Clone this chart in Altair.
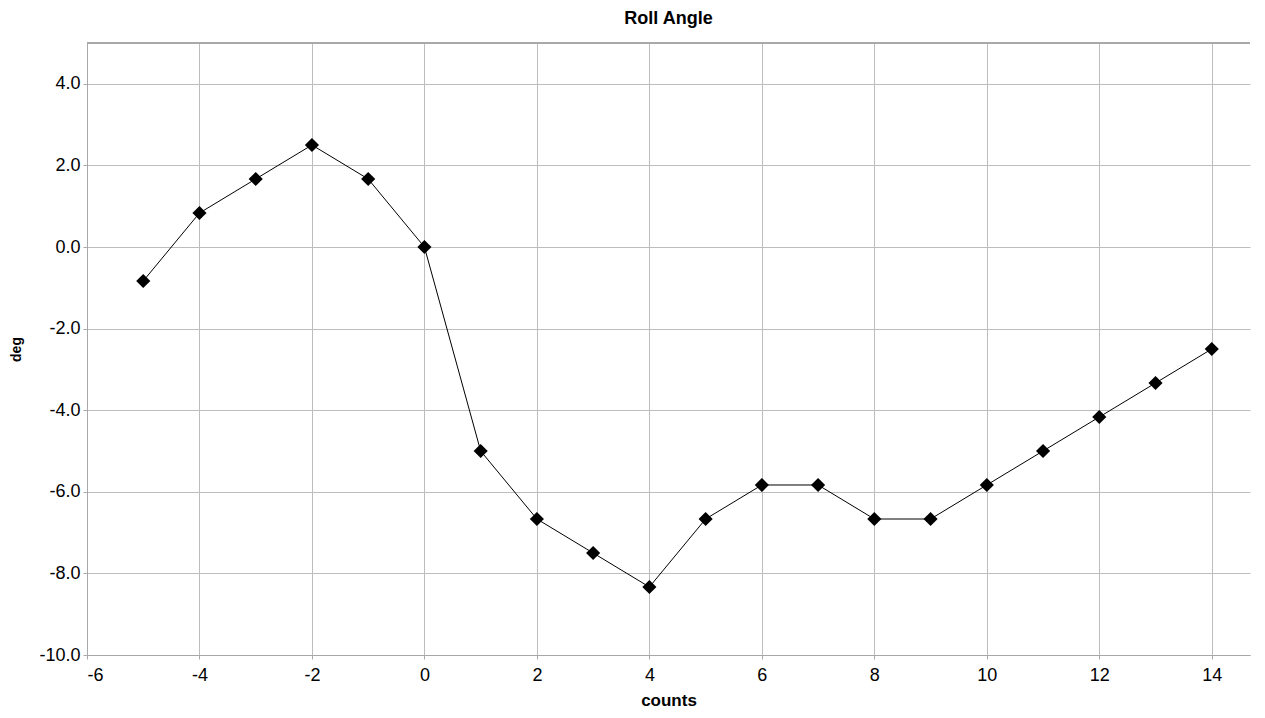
import altair as alt
import pandas as pd

counts = [-5, -4, -3, -2, -1, 0, 1, 2, 3, 4, 5, 6, 7, 8, 9, 10, 11, 12, 13, 14]
deg = [-0.833, 0.833, 1.667, 2.5, 1.667, 0.0, -5.0, -6.667, -7.5, -8.333,
       -6.667, -5.833, -5.833, -6.667, -6.667, -5.833, -5.0, -4.167, -3.333, -2.5]
x_ticks = [-6, -4, -2, 0, 2, 4, 6, 8, 10, 12, 14]
y_ticks = [-10, -8, -6, -4, -2, 0, 2, 4]

df = pd.DataFrame({"counts": counts, "deg": deg})

FONT = "Liberation Sans"
GRID = "#bdbdbd"
FS = 18

x_enc = alt.X("counts:Q", title="counts",
              scale=alt.Scale(domain=[-6, 14.68], nice=False, zero=False),
              axis=alt.Axis(values=x_ticks,
                            labelExpr="(datum.value < 0 ? '-' : '') + format(abs(datum.value), 'd')",
                            grid=True, gridColor=GRID,
                            domainColor="#a8a8a8", tickColor="#a8a8a8", tickSize=4,
                            labelFontSize=FS, labelFont=FONT, labelColor="#000",
                            labelPadding=7, titleFont=FONT, titleFontSize=17,
                            titleFontWeight="bold", titleColor="#000", titlePadding=8))
y_enc = alt.Y("deg:Q", title="deg",
              scale=alt.Scale(domain=[-10, 5], nice=False, zero=False),
              axis=alt.Axis(values=y_ticks,
                            labelExpr="(datum.value < 0 ? '-' : '') + format(abs(datum.value), '.1f')",
                            grid=True, gridColor=GRID,
                            domainColor="#a8a8a8", tickColor="#a8a8a8", tickSize=4,
                            labelFontSize=FS, labelFont=FONT, labelColor="#000",
                            labelPadding=3, titleFont=FONT, titleFontSize=14,
                            titleFontWeight="bold", titleColor="#000", titlePadding=15))

line = alt.Chart(df).mark_line(color="black", strokeWidth=1).encode(x=x_enc, y=y_enc)
pts = alt.Chart(df).mark_point(shape="diamond", filled=True, color="black",
                               size=200, opacity=1).encode(x="counts:Q", y="deg:Q")
top = alt.Chart(df).mark_rule(color="#a8a8a8", strokeWidth=1).encode(
    x=alt.value(0), x2=alt.value(1163), y=alt.value(0))

chart = alt.layer(line, pts, top).properties(
    width=1163, height=612,
    title=alt.TitleParams("Roll Angle", font=FONT, fontSize=FS, fontWeight="bold",
                          color="#000", anchor="middle", offset=15),
    autosize=alt.AutoSizeParams(type="none"),
    padding={"left": 79, "top": 35, "right": 4, "bottom": 55},
).configure_view(stroke=None)

chart.save("out.html", embed_options={"renderer": "svg", "actions": False})
